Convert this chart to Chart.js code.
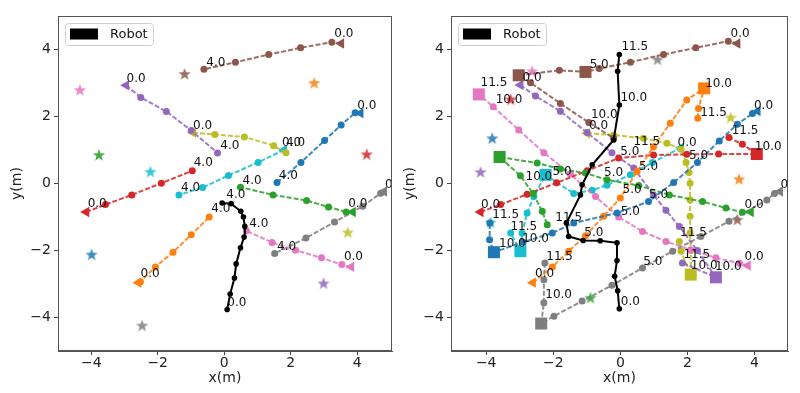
<!DOCTYPE html>
<html><head><meta charset="utf-8">
<script src="https://cdn.jsdelivr.net/npm/chart.js@4.4.0/dist/chart.umd.min.js"></script>
<style>
html,body{margin:0;padding:0;background:#fff;width:800px;height:393px;overflow:hidden}
.wrap{position:absolute;top:0;width:400px;height:393px}
</style></head><body>
<div class="wrap" style="left:0"><canvas id="c1" width="400" height="393"></canvas></div>
<div class="wrap" style="left:400px"><canvas id="c2" width="400" height="393"></canvas></div>
<script>
// ---------- LEFT PANEL (t = 0.0 ... 4.0) ----------
const L_blue   = [[4.10,2.10],[3.94,2.11],[3.52,1.75],[3.02,1.28],[2.31,0.63],[1.59,0.03]];
const L_orange = [[-2.58,-2.96],[-2.52,-2.93],[-2.07,-2.49],[-1.54,-2.05],[-0.99,-1.53],[-0.45,-1.00]];
const L_green  = [[3.87,-0.85],[3.67,-0.85],[3.14,-0.70],[2.48,-0.51],[1.47,-0.34],[0.49,-0.11]];
const L_red    = [[-4.15,-0.85],[-3.57,-0.63],[-2.78,-0.34],[-1.89,0.01],[-0.96,0.38]];
const L_purple = [[-2.95,2.93],[-2.51,2.57],[-1.74,2.15],[-0.99,1.58],[-0.20,0.91]];
const L_brown  = [[3.52,4.18],[3.24,4.22],[2.30,4.05],[1.34,3.85],[0.34,3.62],[-0.61,3.41]];
const L_pink   = [[3.82,-2.49],[3.54,-2.42],[2.93,-2.22],[2.15,-1.99],[1.44,-1.76],[0.67,-1.41]];
const L_gray   = [[4.81,-0.24],[4.71,-0.29],[4.17,-0.68],[3.32,-1.15],[2.46,-1.63],[1.52,-2.09]];
const L_olive  = [[-0.94,1.52],[-0.28,1.46],[0.61,1.39],[1.49,1.13],[1.86,0.92]];
const L_cyan   = [[1.80,1.00],[1.02,0.63],[0.13,0.24],[-0.65,-0.12],[-1.36,-0.34]];
const L_robot  = [[0.09,-3.76],[0.18,-3.30],[0.31,-2.82],[0.36,-2.40],[0.49,-1.92],[0.60,-1.60],[0.62,-1.28],[0.58,-1.00],[0.50,-0.83],[0.21,-0.60],[-0.06,-0.58]];
const L_starX  = [-3.99, 2.71, -3.77, 4.29, 2.99, -1.19, -4.34, -2.47, 3.72, -2.22];
const L_starY  = [-2.12, 3.00, 0.85, 0.87, -2.98, 3.27, 2.79, -4.24, -1.46, 0.35];
const L_lblText = ["0.0","4.0","0.0","0.0","0.0","4.0","0.0","4.0","4.0","4.0","4.0","4.0","4.0","0.0","0.0","0.0","4.0","4.0","4.0","0.0","0.0","0.0"];
const L_lblX    = [3.60,-0.25,-2.65,4.29,-0.65,0.17,2.03,2.15,-0.63,1.93,-1.01,0.84,0.35,-3.82,4.02,5.13,-0.10,1.04,1.88,3.89,-2.23,0.38];
const L_lblY    = [4.48,3.60,3.12,2.31,1.72,1.13,1.20,1.20,0.61,0.23,-0.14,0.09,-0.34,-0.60,-0.60,-0.04,-0.76,-1.21,-1.88,-2.19,-2.70,-3.56];

// ---------- RIGHT PANEL (t = 0.0 ... 11.5) ----------
const R_blue   = [[4.09,2.16],[3.94,2.09],[3.49,1.77],[2.95,1.27],[2.30,0.63],[1.59,0.03],[0.84,-0.54],[-0.10,-0.88],[-1.39,-1.18],[-2.03,-1.48],[-2.90,-1.75],[-3.77,-2.05],[-3.90,-1.68],[-3.89,-1.18]];
const R_orange = [[-2.61,-2.96],[-2.03,-2.49],[-1.54,-2.02],[-1.04,-1.56],[-0.50,-0.98],[0.00,-0.43],[0.50,0.36],[0.99,1.10],[1.49,1.80],[1.98,2.49],[2.50,2.84],[2.33,2.24],[2.31,1.95]];
const R_green  = [[3.89,-0.85],[3.64,-0.86],[3.15,-0.73],[2.45,-0.54],[1.46,-0.34],[0.55,-0.06],[-0.40,0.11],[-1.04,0.31],[-1.79,0.43],[-2.48,0.61],[-3.60,0.79],[-2.98,0.23],[-2.60,-0.30],[-2.33,-0.83],[-2.18,-1.23]];
const R_red    = [[-4.17,-0.85],[-3.57,-0.63],[-2.78,-0.32],[-1.90,0.02],[-0.99,0.38],[-0.05,0.76],[0.99,0.85],[1.98,0.87],[2.93,0.88],[4.07,0.88],[3.64,1.17],[3.24,1.37]];
const R_purple = [[-2.98,2.94],[-2.53,2.61],[-1.79,2.16],[-0.99,1.52],[-0.25,0.92],[0.40,0.46],[0.99,-0.34],[1.36,-0.80],[1.76,-1.28],[2.30,-2.00],[2.85,-2.80],[1.85,-2.37]];
const R_brown  = [[3.49,4.18],[3.22,4.25],[2.25,4.05],[1.29,3.85],[0.30,3.62],[-0.63,3.43],[-1.04,3.33],[-1.82,3.38],[-3.03,3.23],[-2.68,3.01],[-1.79,2.39],[-0.94,1.82],[-0.20,1.35]];
const R_pink   = [[3.80,-2.45],[3.55,-2.38],[2.85,-2.22],[2.10,-1.98],[1.36,-1.73],[0.66,-1.43],[-0.05,-1.00],[-0.74,-0.39],[-1.49,0.28],[-2.28,0.92],[-3.03,1.60],[-3.79,2.29],[-4.22,2.66]];
const R_gray   = [[4.76,-0.24],[4.60,-0.30],[4.37,-0.49],[3.24,-1.13],[2.40,-1.58],[1.56,-2.02],[0.66,-2.52],[-0.25,-3.04],[-1.14,-3.51],[-1.98,-3.96],[-2.36,-4.18],[-2.28,-3.56],[-2.28,-2.87],[-2.25,-2.37]];
const R_olive  = [[-0.99,1.50],[-0.20,1.45],[0.69,1.35],[1.39,1.20],[1.81,1.02],[1.96,0.63],[2.05,0.33],[2.08,0.01],[2.08,-0.49],[2.08,-0.98],[2.08,-1.48],[2.10,-2.00],[2.10,-2.72],[1.81,-2.02],[1.76,-1.73]];
const R_cyan   = [[1.81,1.07],[0.96,0.63],[0.30,0.26],[-0.40,-0.05],[-0.84,-0.20],[-1.39,-0.30],[-2.23,0.26],[-2.58,-0.39],[-2.78,-0.88],[-2.93,-1.48],[-2.98,-2.02],[-3.27,-1.48]];
const R_robot  = [[-0.03,-3.74],[-0.08,-3.20],[-0.17,-2.77],[-0.10,-2.30],[-0.10,-1.77],[-0.60,-1.71],[-1.11,-1.70],[-1.54,-1.58],[-1.61,-1.18],[-1.19,-0.34],[-1.14,-0.04],[-0.84,0.56],[-0.20,1.30],[-0.03,2.34],[-0.08,3.35],[-0.03,3.85]];
const R_starX  = [-3.82, 3.54, -0.89, -3.27, -4.17, 3.49, -2.63, 1.11, 3.29, -3.87];
const R_starY  = [1.35, 0.13, -3.41, 2.51, 0.34, -1.08, 3.35, 3.70, 1.97, -1.16];
const R_sqX    = [-3.77, 2.50, -3.60, 4.07, 2.85, -3.03, -4.22, -2.36, 2.10, -2.98, -1.04, -2.23];
const R_sqY    = [-2.05, 2.84, 0.79, 0.88, -2.80, 3.23, 2.66, -4.18, -2.72, -2.02, 3.33, 0.26];
const R_sqAgent= [0,1,2,3,4,5,6,7,8,9,5,9];
const R_lblText = ["0.0","11.5","5.0","11.5","0.0","10.0","10.0","10.0","11.5","0.0","10.0","0.0","11.5","11.5","0.0","10.0","5.0","5.0","5.0","10.0","5.0","5.0","5.0","5.0","0.0","0.0","5.0","0.0","11.5","11.5","11.5","5.0","10.0","10.0","11.5","11.5","5.0","11.5","10.0","10.0","0.0","0.0","10.0","0.0"];
const R_lblX    = [3.57,0.43,-0.63,-3.77,-2.63,-3.32,2.93,0.40,2.78,4.27,-0.48,-0.65,3.72,0.79,1.99,4.41,0.28,2.33,-1.74,-2.43,-0.20,0.84,0.35,1.14,5.06,3.99,0.30,-3.87,-3.42,-1.54,-2.88,-0.79,-3.22,-2.53,2.18,-1.81,0.97,2.28,2.50,3.22,3.99,-2.26,-1.84,0.30];
const R_lblY    = [4.48,4.08,3.53,2.99,3.14,2.49,2.97,2.56,2.11,2.31,2.04,1.72,1.58,1.25,1.20,1.10,0.95,0.82,0.34,0.19,0.31,0.51,-0.19,-0.34,-0.04,-0.63,-0.85,-0.63,-0.93,-1.03,-1.28,-1.48,-1.79,-1.66,-1.48,-2.19,-2.35,-2.12,-2.45,-2.49,-2.19,-2.70,-3.31,-3.54];

// ---------- styling ----------
const COLORS = ['#1f77b4','#ff7f0e','#2ca02c','#d62728','#9467bd','#8c564b','#e377c2','#7f7f7f','#bcbd22','#17becf'];
Chart.defaults.font.family = "'DejaVu Sans', sans-serif";

function starImage(color){
  const c = document.createElement('canvas'); c.width = 14; c.height = 14;
  const g = c.getContext('2d'); g.beginPath();
  for (let i = 0; i < 10; i++) {
    const r = i % 2 === 0 ? 6.5 : 2.7, a = -Math.PI/2 + i*Math.PI/5;
    const px = 7 + r*Math.cos(a), py = 7.4 + r*Math.sin(a);
    i === 0 ? g.moveTo(px, py) : g.lineTo(px, py);
  }
  g.closePath(); g.globalAlpha = 0.85; g.fillStyle = color; g.fill();
  return c;
}
const STAR_IMGS = COLORS.map(starImage);
const toPts = arr => arr.map(p => ({x:p[0], y:p[1]}));

const overlay = {
  id:'overlay',
  afterDatasetsDraw(chart, args, opts){
    const {ctx, chartArea:a, scales:{x, y}} = chart;
    ctx.save();
    ctx.beginPath(); ctx.rect(a.left, a.top, a.right-a.left, a.bottom-a.top); ctx.clip();
    ctx.font = "12px 'DejaVu Sans'"; ctx.fillStyle = '#111';
    ctx.textAlign = 'center'; ctx.textBaseline = 'middle';
    opts.text.forEach((t,i) => ctx.fillText(t, x.getPixelForValue(opts.lx[i]), y.getPixelForValue(opts.ly[i])));
    ctx.restore();
  },
  afterDraw(chart){
    const {ctx, chartArea:a} = chart;
    ctx.save();
    ctx.strokeStyle = '#555'; ctx.lineWidth = 1;
    ctx.strokeRect(a.left+0.5, a.top+0.5, a.right-a.left-1, a.bottom-a.top-1);
    // legend
    const bx = a.left+7.5, by = a.top+7.5, bw = 88, bh = 22;
    ctx.beginPath(); ctx.roundRect(bx, by, bw, bh, 3);
    ctx.fillStyle = 'rgba(255,255,255,0.85)'; ctx.fill();
    ctx.strokeStyle = '#cfcfcf'; ctx.stroke();
    ctx.fillStyle = '#000'; ctx.fillRect(a.left+12, a.top+12.5, 28, 11);
    ctx.font = "13px 'DejaVu Sans'"; ctx.textBaseline = 'middle'; ctx.textAlign = 'left';
    ctx.fillStyle = '#111'; ctx.fillText('Robot', a.left+52, a.top+18.5);
    ctx.restore();
  }
};

function makeChart(id, tracks, robot, starX, starY, sqX, sqY, sqAgent, lt, lx, ly, yW, yTitlePad, padRight, xMin, xMax){
  const datasets = [];
  datasets.push({label:'Robot', data: toPts(robot), showLine:true, borderColor:'#000', backgroundColor:'#000',
    borderWidth:2, pointRadius:2.8, pointStyle:'circle', pointBorderWidth:0});
  if (sqX) datasets.push({data: sqX.map((v,i)=>({x:v, y:sqY[i]})), showLine:false, pointStyle:'rect', pointRadius:8.5,
    pointBorderWidth:0, backgroundColor: sqAgent.map(k=>COLORS[k]), borderColor: sqAgent.map(k=>COLORS[k])});
  tracks.forEach((tr,k) => datasets.push({data: toPts(tr), showLine:true, borderColor: COLORS[k]+'dd', backgroundColor: COLORS[k],
    borderWidth:2, borderDash:[5,2], pointBorderWidth:0,
    pointStyle: c => c.dataIndex===0 ? 'triangle' : 'circle',
    rotation: c => c.dataIndex===0 ? -90 : 0,
    pointRadius: c => c.dataIndex===0 ? 6 : 3.5}));
  datasets.push({data: starX.map((v,i)=>({x:v, y:starY[i]})), showLine:false, pointStyle: c => STAR_IMGS[c.dataIndex], pointRadius:7});
  const tickFmt = v => v < 0 ? '\u2212' + Math.abs(v) : String(v);
  const axisCommon = {
    type:'linear',
    afterBuildTicks: s => { s.ticks = [-4,-2,0,2,4].map(v=>({value:v})); },
    grid:{drawOnChartArea:false, drawTicks:true, tickLength:4, color:'#444'},
    border:{display:true, color:'#555'},
  };
  return new Chart(document.getElementById(id), {
    type:'scatter',
    data:{datasets},
    options:{
      responsive:false, animation:false, devicePixelRatio:1,
      layout:{padding:{top:16, right:padRight, left:0, bottom:0}},
      plugins:{legend:{display:false}, tooltip:{enabled:false}, overlay:{text:lt, lx:lx, ly:ly}},
      scales:{
        x:Object.assign({}, axisCommon, {min:xMin, max:xMax,
          afterFit: s => { s.height = 42; },
          ticks:{font:{size:14}, color:'#222', padding:0, autoSkip:false, maxRotation:0, callback: tickFmt},
          title:{display:true, text:'x(m)', font:{size:14}, color:'#222', padding:{top:0, bottom:6}}}),
        y:Object.assign({}, axisCommon, {min:-5, max:5,
          afterFit: s => { s.width = yW; },
          ticks:{font:{size:14}, color:'#222', padding:3, autoSkip:false, callback: tickFmt},
          title:{display:true, text:'y(m)', font:{size:14}, color:'#222', padding:{top:yTitlePad, bottom:0}}})
      }
    },
    plugins:[overlay]
  });
}

makeChart('c1', [L_blue,L_orange,L_green,L_red,L_purple,L_brown,L_pink,L_gray,L_olive,L_cyan], L_robot,
  L_starX, L_starY, null, null, null, L_lblText, L_lblX, L_lblY, 58, 9, 3, -5, 5.05);
makeChart('c2', [R_blue,R_orange,R_green,R_red,R_purple,R_brown,R_pink,R_gray,R_olive,R_cyan], R_robot,
  R_starX, R_starY, R_sqX, R_sqY, R_sqAgent, R_lblText, R_lblX, R_lblY, 51, 2, 12, -5.05, 5.0);
</script>
</body></html>
